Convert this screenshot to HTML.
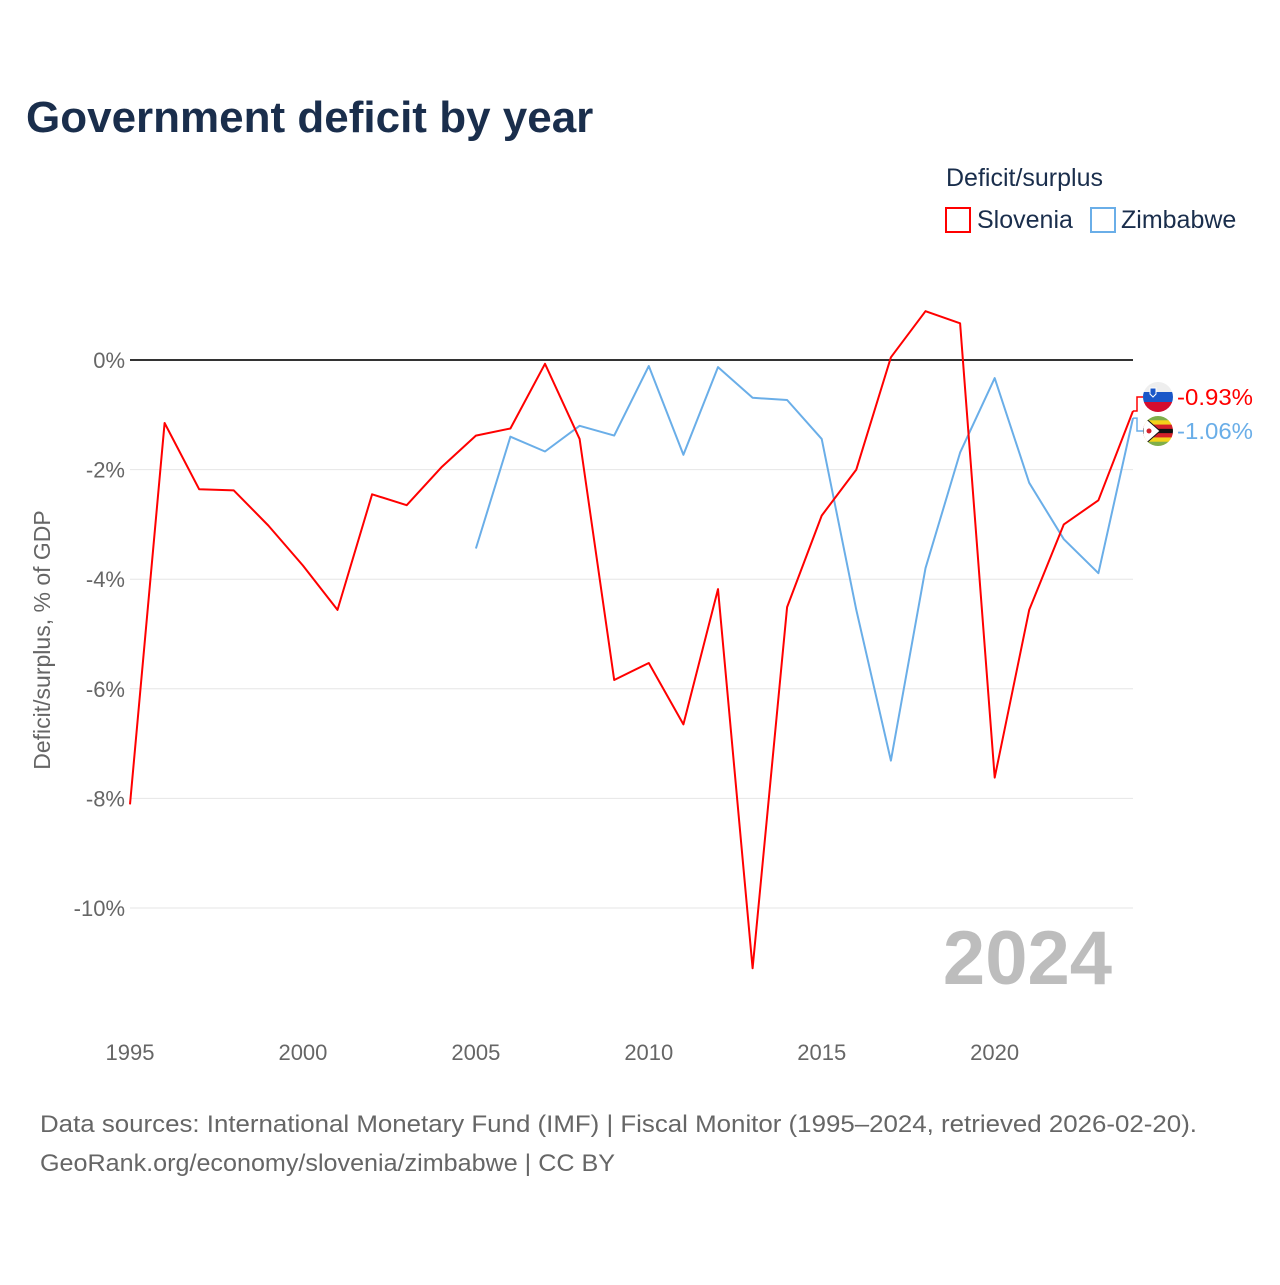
<!DOCTYPE html>
<html><head><meta charset="utf-8"><style>
body{margin:0;background:#fff;font-family:"Liberation Sans",sans-serif;}
</style></head><body>
<svg id="c" width="1280" height="1280" xmlns="http://www.w3.org/2000/svg" style="font-family:'Liberation Sans',sans-serif">
<text x="26" y="132" font-size="44" font-weight="bold" fill="#1a2e4c">Government deficit by year</text>
<text x="946" y="186" font-size="25" fill="#1a2e4c">Deficit/surplus</text>
<g><rect x="946" y="208" width="24" height="24" fill="none" stroke="#f00" stroke-width="2"/><text x="977" y="228" font-size="25" fill="#1a2e4c">Slovenia</text></g>
<g><rect x="1091" y="208" width="24" height="24" fill="none" stroke="#6aaee8" stroke-width="2"/><text x="1121" y="228" font-size="25" fill="#1a2e4c">Zimbabwe</text></g>
<text transform="translate(50,640) rotate(-90)" text-anchor="middle" font-size="23" fill="#666">Deficit/surplus, % of GDP</text>
<text x="1112" y="984" text-anchor="end" font-size="76" font-weight="bold" fill="#bdbdbd">2024</text>
<g id="grid"></g><g id="lines"></g><g id="labels"></g>
<text x="40" y="1132" font-size="24" fill="#666" textLength="1157" lengthAdjust="spacingAndGlyphs">Data sources: International Monetary Fund (IMF) | Fiscal Monitor (1995–2024, retrieved 2026-02-20).</text>
<text x="40" y="1171" font-size="24" fill="#666" textLength="575" lengthAdjust="spacingAndGlyphs">GeoRank.org/economy/slovenia/zimbabwe | CC BY</text>
</svg>
<script>
const years=[1995,1996,1997,1998,1999,2000,2001,2002,2003,2004,2005,2006,2007,2008,2009,2010,2011,2012,2013,2014,2015,2016,2017,2018,2019,2020,2021,2022,2023,2024];
const slovenia=[-8.11,-1.15,-2.36,-2.38,-3.02,-3.75,-4.56,-2.45,-2.65,-1.96,-1.38,-1.25,-0.07,-1.44,-5.84,-5.53,-6.65,-4.18,-11.1,-4.51,-2.84,-2.0,0.05,0.89,0.67,-7.62,-4.56,-3.0,-2.56,-0.93];
const zimbabwe=[null,null,null,null,null,null,null,null,null,null,-3.44,-1.4,-1.67,-1.2,-1.38,-0.11,-1.73,-0.13,-0.69,-0.73,-1.44,-4.56,-7.31,-3.8,-1.69,-0.33,-2.24,-3.27,-3.89,-1.06];
const yTicks=[0,-2,-4,-6,-8,-10];
const xTicks=[1995,2000,2005,2010,2015,2020];
const X=y=>130+(y-1995)*(1003/29);
const Y=v=>360-v*54.8;
const NS='http://www.w3.org/2000/svg';
function mk(t,a,p){const e=document.createElementNS(NS,t);for(const k in a)e.setAttribute(k,a[k]);p.appendChild(e);return e;}
const g=document.getElementById('grid');
yTicks.forEach(v=>{
 const l=mk('line',{x1:130,x2:1133,y1:Y(v),y2:Y(v),stroke:v===0?'#333':'#e6e6e6','stroke-width':v===0?2:1},g);
 
 
 const t=mk('text',{x:125,y:Y(v)+8,'text-anchor':'end','font-size':22,fill:'#666'},g);
 t.textContent=v+'%';
 
 
});
xTicks.forEach(y=>{
 const t=mk('text',{x:X(y),y:1060,'text-anchor':'middle','font-size':22,fill:'#666'},g);
 t.textContent=y;
 
 
});
const L=document.getElementById('lines');
function path(vals,col,name){
 let d='';vals.forEach((v,i)=>{if(v===null)return;d+=(d?'L':'M')+X(years[i]).toFixed(1)+','+Y(v).toFixed(1);});
 const p=mk('path',{d:d,fill:'none',stroke:col,'stroke-width':2,'stroke-linejoin':'round'},L);
 
 
}
path(zimbabwe,'#6aaee8','zimbabwe-line');
path(slovenia,'#f00','slovenia-line');
const lb=document.getElementById('labels');
function endLabel(v,ly,col,name,flag){
 mk('path',{d:`M${X(2024)},${Y(v)} L${X(2024)+4},${Y(v)} L${X(2024)+4},${ly} L1143,${ly}`,fill:'none',stroke:col,'stroke-width':1.5},lb);
 flag(ly);
 const t=mk('text',{x:1177,y:ly+8,'font-size':23,fill:col,textLength:76,lengthAdjust:'spacingAndGlyphs'},lb);
 t.textContent=v.toFixed(2)+'%';
 
 
}
const last=years.length-1;
endLabel(slovenia[last],397,'#f00','slovenia-end-label',cy=>{
 const f=mk('g',{},lb);
 const cp=mk('clipPath',{id:'cs'},f);mk('circle',{cx:1158,cy:cy,r:15},cp);
 const gg=mk('g',{'clip-path':'url(#cs)'},f);
 mk('rect',{x:1143,y:cy-15,width:30,height:10,fill:'#eee'},gg);
 mk('rect',{x:1143,y:cy-5,width:30,height:10,fill:'#1a57c8'},gg);
 mk('rect',{x:1143,y:cy+5,width:30,height:10,fill:'#d50d2e'},gg);
 mk('path',{d:`M1150,${cy-9} L1156,${cy-9} L1156,${cy-3} L1153,${cy} L1150,${cy-3}Z`,fill:'#1a57c8',stroke:'#fff','stroke-width':1},gg);
});
endLabel(zimbabwe[last],431,'#6aaee8','zimbabwe-end-label',cy=>{
 const f=mk('g',{},lb);
 const cp=mk('clipPath',{id:'cz'},f);mk('circle',{cx:1158,cy:cy,r:15},cp);
 const gg=mk('g',{'clip-path':'url(#cz)'},f);
 const cols=['#7fae4a','#f3d21a','#d4202a','#111','#d4202a','#f3d21a','#7fae4a'];
 cols.forEach((c,i)=>mk('rect',{x:1143,y:cy-15+i*30/7,width:30,height:30/7+0.5,fill:c},gg));
 mk('path',{d:`M1143,${cy-15} L1160,${cy} L1143,${cy+15}Z`,fill:'#fff',stroke:'#111','stroke-width':1},gg);
 mk('circle',{cx:1149,cy:cy,r:2.5,fill:'#d4202a'},gg);
});
</script>
</body></html>
